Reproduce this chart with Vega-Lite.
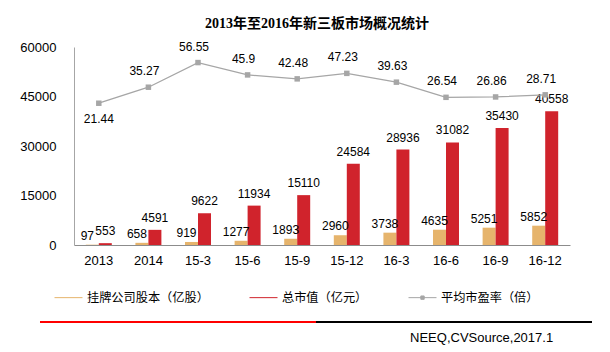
{
  "$schema": "https://vega.github.io/schema/vega-lite/v6.json",
  "padding": {"left": 19, "top": 16, "right": 0, "bottom": 0},
  "background": "white",
  "config": {"view": {"stroke": null}, "font": "Liberation Sans"},
  "datasets": {
    "bars": [
      {"period": "2013", "series": "挂牌公司股本（亿股）", "value": 97},
      {"period": "2014", "series": "挂牌公司股本（亿股）", "value": 658},
      {"period": "15-3", "series": "挂牌公司股本（亿股）", "value": 919},
      {"period": "15-6", "series": "挂牌公司股本（亿股）", "value": 1277},
      {"period": "15-9", "series": "挂牌公司股本（亿股）", "value": 1893},
      {"period": "15-12", "series": "挂牌公司股本（亿股）", "value": 2960},
      {"period": "16-3", "series": "挂牌公司股本（亿股）", "value": 3738},
      {"period": "16-6", "series": "挂牌公司股本（亿股）", "value": 4635},
      {"period": "16-9", "series": "挂牌公司股本（亿股）", "value": 5251},
      {"period": "16-12", "series": "挂牌公司股本（亿股）", "value": 5852},
      {"period": "2013", "series": "总市值（亿元）", "value": 553},
      {"period": "2014", "series": "总市值（亿元）", "value": 4591},
      {"period": "15-3", "series": "总市值（亿元）", "value": 9622},
      {"period": "15-6", "series": "总市值（亿元）", "value": 11934},
      {"period": "15-9", "series": "总市值（亿元）", "value": 15110},
      {"period": "15-12", "series": "总市值（亿元）", "value": 24584},
      {"period": "16-3", "series": "总市值（亿元）", "value": 28936},
      {"period": "16-6", "series": "总市值（亿元）", "value": 31082},
      {"period": "16-9", "series": "总市值（亿元）", "value": 35430},
      {"period": "16-12", "series": "总市值（亿元）", "value": 40558}
    ],
    "pe": [
      {"period": "2013", "pe": 21.44},
      {"period": "2014", "pe": 35.27},
      {"period": "15-3", "pe": 56.55},
      {"period": "15-6", "pe": 45.9},
      {"period": "15-9", "pe": 42.48},
      {"period": "15-12", "pe": 47.23},
      {"period": "16-3", "pe": 39.63},
      {"period": "16-6", "pe": 26.54},
      {"period": "16-9", "pe": 26.86},
      {"period": "16-12", "pe": 28.71}
    ]
  },
  "spacing": 54,
  "vconcat": [
    {
      "width": 496,
      "height": 198,
      "title": {
        "text": "2013年至2016年新三板市场概况统计",
        "font": "Liberation Serif, Noto Sans CJK SC",
        "fontSize": 14,
        "fontWeight": "bold",
        "color": "#000000",
        "anchor": "middle",
        "dx": -5,
        "offset": 10
      },
      "layer": [
        {
          "data": {"name": "bars"},
          "layer": [
            {
              "mark": {"type": "bar"},
              "encoding": {
                "x": {
                  "field": "period", "type": "nominal", "sort": null,
                  "scale": {"domain": ["2013", "2014", "15-3", "15-6", "15-9", "15-12", "16-3", "16-6", "16-9", "16-12"], "paddingInner": 0.476, "paddingOuter": 0.238},
                  "axis": {"title": null, "labelAngle": 0, "ticks": false, "tickSize": 0, "labelPadding": 9, "domainColor": "#8C8C8C", "labelFont": "Liberation Sans", "labelFontSize": 13, "labelColor": "#000000"}
                },
                "xOffset": {"field": "series", "type": "nominal", "scale": {"domain": ["挂牌公司股本（亿股）", "总市值（亿元）"], "paddingInner": 0, "paddingOuter": 0}},
                "y": {
                  "field": "value", "type": "quantitative",
                  "scale": {"domain": [0, 60000], "nice": false},
                  "axis": {"title": null, "values": [0, 15000, 30000, 45000, 60000], "format": "d", "ticks": false, "tickSize": 0, "grid": false, "labelPadding": 18, "domainColor": "#A6A6A6", "labelFont": "Liberation Sans", "labelFontSize": 13, "labelColor": "#000000"}
                },
                "color": {
                  "field": "series", "type": "nominal",
                  "scale": {"domain": ["挂牌公司股本（亿股）", "总市值（亿元）", "平均市盈率（倍）"], "range": ["#E6B46C", "#D0232C", "#A6A6A6"]},
                  "legend": {
                    "orient": "none", "legendX": -20, "legendY": 236, "direction": "horizontal", "title": null,
                    "symbolSize": 784, "labelFont": "Noto Sans CJK SC", "labelFontSize": 12.2, "labelColor": "#000000",
                    "labelOffset": 4, "columnPadding": 38, "padding": 0, "symbolStrokeWidth": 1,
                    "encode": {
                      "symbols": {
                        "update": {
                          "shape": {"signal": "datum.value === '平均市盈率（倍）' ? 'M-1,0H1M-0.12,-0.12H0.12V0.12H-0.12Z' : 'M-1,0H1'"},
                          "stroke": {"scale": "color", "field": "value"},
                          "fill": {"scale": "color", "field": "value"},
                          "strokeWidth": {"value": 1},
                          "opacity": {"value": 1}
                        }
                      }
                    }
                  }
                }
              }
            },
            {
              "transform": [{"filter": "datum.series === '挂牌公司股本（亿股）'"}],
              "mark": {"type": "text", "baseline": "alphabetic", "dx": -5, "dy": -5, "fontSize": 12, "font": "Liberation Sans", "color": "#000000"},
              "encoding": {
                "x": {"field": "period", "type": "nominal", "sort": null},
                "xOffset": {"field": "series", "type": "nominal"},
                "y": {"field": "value", "type": "quantitative"},
                "text": {"field": "value", "type": "nominal"}
              }
            },
            {
              "transform": [{"filter": "datum.series === '总市值（亿元）'"}],
              "mark": {"type": "text", "baseline": "alphabetic", "dy": -8, "fontSize": 12, "font": "Liberation Sans", "color": "#000000"},
              "encoding": {
                "x": {"field": "period", "type": "nominal", "sort": null},
                "xOffset": {"field": "series", "type": "nominal"},
                "y": {"field": "value", "type": "quantitative"},
                "text": {"field": "value", "type": "nominal"}
              }
            }
          ]
        },
        {
          "data": {"name": "pe"},
          "layer": [
            {
              "mark": {"type": "line", "strokeWidth": 1.3, "point": {"shape": "square", "size": 30, "filled": true}},
              "encoding": {
                "x": {"field": "period", "type": "nominal", "sort": null},
                "y": {"field": "pe", "type": "quantitative", "scale": {"domain": [-101, 70], "nice": false, "zero": false}, "axis": null},
                "color": {"datum": "平均市盈率（倍）"}
              }
            },
            {
              "transform": [{"filter": "datum.period !== '2013'"}],
              "mark": {"type": "text", "baseline": "middle", "dx": -4, "dy": -16, "fontSize": 12, "font": "Liberation Sans", "color": "#000000"},
              "encoding": {
                "x": {"field": "period", "type": "nominal", "sort": null},
                "y": {"field": "pe", "type": "quantitative"},
                "text": {"field": "pe", "type": "nominal"}
              }
            },
            {
              "transform": [{"filter": "datum.period === '2013'"}],
              "mark": {"type": "text", "baseline": "middle", "dy": 16, "fontSize": 12, "font": "Liberation Sans", "color": "#000000"},
              "encoding": {
                "x": {"field": "period", "type": "nominal", "sort": null},
                "y": {"field": "pe", "type": "quantitative"},
                "text": {"field": "pe", "type": "nominal"}
              }
            }
          ]
        }
      ],
      "resolve": {"scale": {"y": "independent"}}
    },
    {
      "width": 496,
      "height": 16,
      "layer": [
        {
          "data": {"values": [{"from": 0, "to": 1}]},
          "mark": {"type": "rule", "color": "#FF0000", "strokeWidth": 2},
          "encoding": {
            "x": {"field": "from", "type": "quantitative", "scale": {"domain": [0.1232, 1.9203], "nice": false, "zero": false}, "axis": null},
            "x2": {"field": "to"},
            "y": {"datum": 1, "type": "quantitative", "scale": {"domain": [0, 1], "nice": false}, "axis": null}
          }
        },
        {
          "data": {"values": [{"from": 1, "to": 2}]},
          "mark": {"type": "rule", "color": "#000000", "strokeWidth": 2},
          "encoding": {
            "x": {"field": "from", "type": "quantitative", "scale": {"domain": [0.1232, 1.9203], "nice": false, "zero": false}, "axis": null},
            "x2": {"field": "to"},
            "y": {"datum": 1, "type": "quantitative", "scale": {"domain": [0, 1], "nice": false}, "axis": null}
          }
        },
        {
          "data": {"values": [{"source": "NEEQ,CVSource,2017.1"}]},
          "mark": {"type": "text", "baseline": "middle", "fontSize": 13, "font": "Liberation Sans", "color": "#000000"},
          "encoding": {
            "x": {"datum": 1.6, "type": "quantitative", "scale": {"domain": [0.1232, 1.9203], "nice": false, "zero": false}, "axis": null},
            "y": {"datum": 0, "type": "quantitative", "scale": {"domain": [0, 1], "nice": false}, "axis": null},
            "text": {"field": "source"}
          }
        }
      ]
    }
  ]
}
